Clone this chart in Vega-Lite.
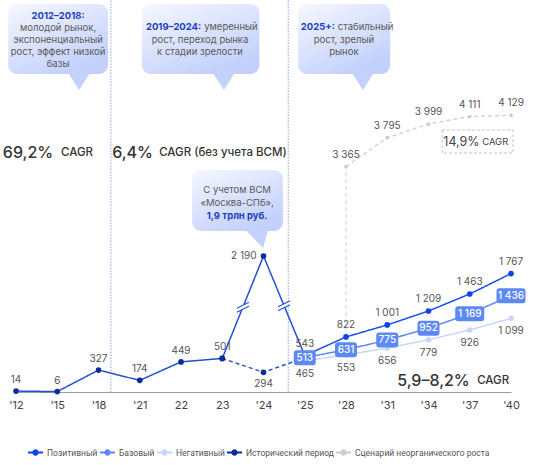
{
  "$schema": "https://vega.github.io/schema/vega-lite/v6.json",
  "width": 538,
  "height": 392,
  "autosize": {"type": "none"},
  "padding": {"left": 0, "top": 0, "right": 0, "bottom": 73},
  "background": "white",
  "config": {
    "view": {"stroke": null},
    "font": "Inter",
    "locale": {"number": {"decimal": ",", "thousands": "\u00a0", "grouping": [3], "currency": ["", "\u00a0₽"]}}
  },
  "datasets": {
    "series": [
      {"s": "Сценарий неорганического роста", "g": "inorg", "i": 8, "v": 3365},
      {"s": "Сценарий неорганического роста", "g": "inorg", "i": 9, "v": 3795},
      {"s": "Сценарий неорганического роста", "g": "inorg", "i": 10, "v": 3999},
      {"s": "Сценарий неорганического роста", "g": "inorg", "i": 11, "v": 4111},
      {"s": "Сценарий неорганического роста", "g": "inorg", "i": 12, "v": 4129},
      {"s": "Негативный", "g": "neg", "i": 7, "v": 465},
      {"s": "Негативный", "g": "neg", "i": 8, "v": 553},
      {"s": "Негативный", "g": "neg", "i": 9, "v": 656},
      {"s": "Негативный", "g": "neg", "i": 10, "v": 779},
      {"s": "Негативный", "g": "neg", "i": 11, "v": 926},
      {"s": "Негативный", "g": "neg", "i": 12, "v": 1099},
      {"s": "Базовый", "g": "base", "i": 7, "v": 513},
      {"s": "Базовый", "g": "base", "i": 8, "v": 631},
      {"s": "Базовый", "g": "base", "i": 9, "v": 775},
      {"s": "Базовый", "g": "base", "i": 10, "v": 952},
      {"s": "Базовый", "g": "base", "i": 11, "v": 1169},
      {"s": "Базовый", "g": "base", "i": 12, "v": 1436},
      {"s": "Позитивный", "g": "pos", "i": 7, "v": 543},
      {"s": "Позитивный", "g": "pos", "i": 8, "v": 822},
      {"s": "Позитивный", "g": "pos", "i": 9, "v": 1001},
      {"s": "Позитивный", "g": "pos", "i": 10, "v": 1209},
      {"s": "Позитивный", "g": "pos", "i": 11, "v": 1463},
      {"s": "Позитивный", "g": "pos", "i": 12, "v": 1767},
      {"s": "Исторический период", "g": "hist", "i": 0, "v": 14},
      {"s": "Исторический период", "g": "hist", "i": 1, "v": 6},
      {"s": "Исторический период", "g": "hist", "i": 2, "v": 327},
      {"s": "Исторический период", "g": "hist", "i": 3, "v": 174},
      {"s": "Исторический период", "g": "hist", "i": 4, "v": 449},
      {"s": "Исторический период", "g": "hist", "i": 5, "v": 501},
      {"s": "Исторический период", "g": "hist", "i": 6, "v": 2190},
      {"s": "Исторический период", "g": "hist", "i": 7, "v": 543},
      {"s": "Исторический период", "g": "alt", "i": 5, "v": 501},
      {"s": "Исторический период", "g": "alt", "i": 6, "v": 294},
      {"s": "Исторический период", "g": "alt", "i": 7, "v": 513}
    ],
    "eras": [
      {"i": 2.3, "v": 0, "v2": 5850},
      {"i": 6.6, "v": 0, "v2": 5850}
    ],
    "bubbles": [
      {"i": -0.19, "i2": 2.23, "v": 4746, "v2": 5791},
      {"i": 3.05, "i2": 5.9, "v": 4746, "v2": 5791},
      {"i": 6.84, "i2": 9.07, "v": 4746, "v2": 5791},
      {"i": 4.27, "i2": 6.47, "v": 2501, "v2": 3313}
    ],
    "pointers": [
      {"i": 1.53, "v": 4642},
      {"i": 5.04, "v": 4642},
      {"i": 8.41, "v": 4642}
    ],
    "callout": [{"i": 5.87, "v": 2389}],
    "cagrbox": [{"i": 10.33, "i2": 12.05, "v": 3567, "v2": 3910}],
    "link": [{"i": 8, "v": 822, "v2": 3365}],
    "breaks": [{"i": 5.5, "v": 1266}, {"i": 6.5, "v": 1287}],
    "notes": [
      {"t": "2012–2018:", "i": 1.02, "v": 5612, "role": "head"},
      {"t": "молодой рынок,", "i": 1.02, "v": 5433, "role": "body"},
      {"t": "экспоненциальный", "i": 1.02, "v": 5254, "role": "body"},
      {"t": "рост, эффект низкой", "i": 1.02, "v": 5075, "role": "body"},
      {"t": "базы", "i": 1.02, "v": 4896, "role": "body"},
      {"t": "2019–2024:", "i": 4.49, "v": 5448, "role": "head-r"},
      {"t": "умеренный", "i": 4.49, "v": 5448, "role": "body-l"},
      {"t": "рост, переход рынка", "i": 4.46, "v": 5254, "role": "body"},
      {"t": "к стадии зрелости", "i": 4.46, "v": 5075, "role": "body"},
      {"t": "2025+:", "i": 7.73, "v": 5448, "role": "head-r"},
      {"t": "стабильный", "i": 7.73, "v": 5448, "role": "body-l"},
      {"t": "рост, зрелый", "i": 7.95, "v": 5254, "role": "body"},
      {"t": "рынок", "i": 7.95, "v": 5075, "role": "body"},
      {"t": "С учетом ВСМ", "i": 5.36, "v": 3015, "role": "body"},
      {"t": "«Москва-СПб»,", "i": 5.36, "v": 2850, "role": "body"},
      {"t": "1,9 трлн руб.", "i": 5.36, "v": 2688, "role": "head"},
      {"t": "69,2%", "i": 0.9, "v": 3567, "role": "pct"},
      {"t": "CAGR", "i": 1.09, "v": 3567, "role": "unit"},
      {"t": "6,4%", "i": 3.32, "v": 3567, "role": "pct"},
      {"t": "CAGR (без учета ВСМ)", "i": 3.47, "v": 3567, "role": "unit"},
      {"t": "5,9–8,2%", "i": 11.0, "v": 164, "role": "pct"},
      {"t": "CAGR", "i": 11.18, "v": 164, "role": "unit"},
      {"t": "14,9%", "i": 11.24, "v": 3731, "role": "pct-s"},
      {"t": "CAGR", "i": 11.3, "v": 3731, "role": "unit-s"}
    ]
  },
  "encoding": {
    "x": {
      "field": "i",
      "type": "quantitative",
      "scale": {"domain": [0, 12], "range": [16, 511]},
      "axis": {
        "values": [0, 1, 2, 3, 4, 5, 6, 7, 8, 9, 10, 11, 12],
        "labelExpr": "[\"'12\", \"'15\", \"'18\", \"'21\", \"22\", \"23\", \"'24\", \"'25\", \"'28\", \"'31\", \"'34\", \"'37\", \"'40\"][datum.value]",
        "title": null,
        "ticks": false,
        "grid": false,
        "domainColor": "#9a9a9a",
        "labelFontSize": 11,
        "labelColor": "#444",
        "labelPadding": 7,
        "labelFlush": false,
        "labelOverlap": false
      }
    },
    "y": {
      "field": "v",
      "type": "quantitative",
      "scale": {"domain": [0, 1800, 2190, 3000, 5850], "range": [392, 271.4, 256, 191, 0]},
      "axis": null
    }
  },
  "layer": [
    {
      "data": {"name": "eras"},
      "mark": {"type": "rule", "color": "#8ea6e8", "strokeWidth": 1, "strokeDash": [1.5, 1.5]},
      "encoding": {"y2": {"field": "v2"}}
    },
    {
      "data": {"name": "bubbles"},
      "mark": {
        "type": "rect",
        "cornerRadius": 9,
        "color": {
          "gradient": "linear", "x1": 0, "y1": 0, "x2": 0.6, "y2": 1,
          "stops": [{"offset": 0, "color": "#f6f8ff"}, {"offset": 1, "color": "#c2d0fb"}]
        }
      },
      "encoding": {"x2": {"field": "i2"}, "y2": {"field": "v2"}}
    },
    {
      "data": {"name": "pointers"},
      "mark": {"type": "point", "filled": true, "opacity": 1, "color": "#c3d1fb", "size": 576, "shape": "M-1,-0.8L1,-0.8L0,0.75Z"}
    },
    {
      "data": {"name": "callout"},
      "mark": {"type": "point", "filled": true, "opacity": 1, "color": "#c3d1fb", "size": 400, "shape": "M-1.3,-1.05L1,-1.05L0.5,0.8Z"}
    },
    {
      "data": {"name": "cagrbox"},
      "mark": {"type": "rect", "fill": null, "fillOpacity": 0, "stroke": "#c4c4c4", "strokeWidth": 1, "strokeDash": [3, 2]},
      "encoding": {"x2": {"field": "i2"}, "y2": {"field": "v2"}}
    },
    {
      "data": {"name": "link"},
      "mark": {"type": "rule", "color": "#d4d4d4", "strokeWidth": 1.2, "strokeDash": [4, 3]},
      "encoding": {"y2": {"field": "v2"}}
    },
    {
      "data": {"name": "series"},
      "mark": {"type": "line", "strokeWidth": 1.5},
      "encoding": {
        "stroke": {
          "field": "g", "type": "nominal",
          "scale": {
            "domain": ["pos", "base", "neg", "hist", "alt", "inorg"],
            "range": ["#1a4ef0", "#5d89f6", "#c8d6fb", "#2450d6", "#2450d6", "#d4d4d4"]
          },
          "legend": null
        },
        "strokeDash": {
          "field": "g", "type": "nominal",
          "scale": {
            "domain": ["pos", "base", "neg", "hist", "alt", "inorg"],
            "range": [[1, 0], [1, 0], [1, 0], [1, 0], [4, 3], [4, 3]]
          },
          "legend": null
        }
      }
    },
    {
      "data": {"name": "breaks"},
      "mark": {"type": "point", "filled": true, "opacity": 1, "color": "white", "size": 100, "shape": "M-1.2,0.2L1.2,-1L1.2,-0.2L-1.2,1Z"}
    },
    {
      "data": {"name": "breaks"},
      "mark": {"type": "point", "filled": false, "opacity": 1, "color": "#2450d6", "strokeWidth": 1.1, "size": 100, "shape": "M-1.2,0.2L1.2,-1M-1.2,1L1.2,-0.2"}
    },
    {
      "data": {"name": "series"},
      "mark": {"type": "point", "filled": true, "opacity": 1},
      "encoding": {
        "color": {
          "field": "s", "type": "nominal",
          "scale": {
            "domain": ["Позитивный", "Базовый", "Негативный", "Исторический период", "Сценарий неорганического роста"],
            "range": ["#0d43ee", "#5d89f6", "#c8d6fb", "#0a2c9e", "#cccccc"]
          },
          "legend": {
            "orient": "none",
            "legendX": 27,
            "legendY": 444,
            "direction": "horizontal",
            "columns": 5,
            "title": null,
            "symbolType": "M-1,-0.12L1,-0.12L1,0.12L-1,0.12ZM-0.42,0A0.42,0.42,0,1,1,0.42,0A0.42,0.42,0,1,1,-0.42,0Z",
            "symbolSize": 225,
            "symbolOpacity": 1,
            "labelFont": "Roboto",
            "labelFontSize": 8.5,
            "labelColor": "#555",
            "labelOffset": 3,
            "columnPadding": 1
          }
        },
        "size": {"condition": {"test": "datum.g == 'inorg'", "value": 14}, "value": 32}
      }
    },
    {
      "data": {"name": "series"},
      "transform": [{"filter": "datum.g == 'base'"}],
      "mark": {"type": "point", "filled": true, "opacity": 1, "color": "#5d89f6", "size": 400},
      "encoding": {
        "shape": {
          "condition": {"test": "datum.v >= 1000", "value": "M-1.15,-0.75L1.15,-0.75Q1.45,-0.75,1.45,-0.45L1.45,0.45Q1.45,0.75,1.15,0.75L-1.15,0.75Q-1.45,0.75,-1.45,0.45L-1.45,-0.45Q-1.45,-0.75,-1.15,-0.75Z"},
          "value": "M-0.8,-0.75L0.8,-0.75Q1.1,-0.75,1.1,-0.45L1.1,0.45Q1.1,0.75,0.8,0.75L-0.8,0.75Q-1.1,0.75,-1.1,0.45L-1.1,-0.45Q-1.1,-0.75,-0.8,-0.75Z"
        }
      }
    },
    {
      "data": {"name": "series"},
      "transform": [{"filter": "datum.g == 'base'"}],
      "mark": {"type": "text", "color": "white", "fontSize": 10, "fontWeight": 500, "baseline": "middle"},
      "encoding": {"text": {"field": "v", "type": "quantitative", "format": ",d"}}
    },
    {
      "data": {"name": "series"},
      "transform": [{"filter": "datum.g == 'hist' && datum.i <= 5"}],
      "mark": {"type": "text", "color": "#555", "fontSize": 10, "baseline": "middle", "dy": -11},
      "encoding": {"text": {"field": "v", "type": "quantitative", "format": ",d"}}
    },
    {
      "data": {"name": "series"},
      "transform": [{"filter": "datum.g == 'hist' && datum.i == 6"}],
      "mark": {"type": "text", "color": "#555", "fontSize": 10, "baseline": "middle", "align": "right", "dx": -7},
      "encoding": {"text": {"field": "v", "type": "quantitative", "format": ",d"}}
    },
    {
      "data": {"name": "series"},
      "transform": [{"filter": "datum.g == 'alt' && datum.i == 6"}],
      "mark": {"type": "text", "color": "#555", "fontSize": 10, "baseline": "middle", "dy": 12},
      "encoding": {"text": {"field": "v", "type": "quantitative", "format": ",d"}}
    },
    {
      "data": {"name": "series"},
      "transform": [{"filter": "datum.g == 'pos' || datum.g == 'inorg'"}],
      "mark": {"type": "text", "color": "#555", "fontSize": 10, "baseline": "middle", "dy": -12},
      "encoding": {"text": {"field": "v", "type": "quantitative", "format": ",d"}}
    },
    {
      "data": {"name": "series"},
      "transform": [{"filter": "datum.g == 'neg'"}],
      "mark": {"type": "text", "color": "#555", "fontSize": 10, "baseline": "middle", "dy": 13},
      "encoding": {"text": {"field": "v", "type": "quantitative", "format": ",d"}}
    },
    {
      "data": {"name": "notes"},
      "transform": [{"filter": "datum.role == 'head'"}],
      "mark": {"type": "text", "color": "#1e3fc0", "fontSize": 9.5, "fontWeight": 700, "baseline": "middle"},
      "encoding": {"text": {"field": "t"}}
    },
    {
      "data": {"name": "notes"},
      "transform": [{"filter": "datum.role == 'head-r'"}],
      "mark": {"type": "text", "color": "#1e3fc0", "fontSize": 9.5, "fontWeight": 700, "baseline": "middle", "align": "right"},
      "encoding": {"text": {"field": "t"}}
    },
    {
      "data": {"name": "notes"},
      "transform": [{"filter": "datum.role == 'body'"}],
      "mark": {"type": "text", "color": "#5a5a5a", "fontSize": 9.5, "baseline": "middle"},
      "encoding": {"text": {"field": "t"}}
    },
    {
      "data": {"name": "notes"},
      "transform": [{"filter": "datum.role == 'body-l'"}],
      "mark": {"type": "text", "color": "#5a5a5a", "fontSize": 9.5, "baseline": "middle", "align": "left", "dx": 3},
      "encoding": {"text": {"field": "t"}}
    },
    {
      "data": {"name": "notes"},
      "transform": [{"filter": "datum.role == 'pct'"}],
      "mark": {"type": "text", "color": "#333", "fontSize": 16, "fontWeight": 500, "baseline": "middle", "align": "right"},
      "encoding": {"text": {"field": "t"}}
    },
    {
      "data": {"name": "notes"},
      "transform": [{"filter": "datum.role == 'unit'"}],
      "mark": {"type": "text", "color": "#333", "fontSize": 11.5, "fontWeight": 500, "baseline": "middle", "align": "left"},
      "encoding": {"text": {"field": "t"}}
    },
    {
      "data": {"name": "notes"},
      "transform": [{"filter": "datum.role == 'pct-s'"}],
      "mark": {"type": "text", "color": "#444", "fontSize": 12.5, "baseline": "middle", "align": "right"},
      "encoding": {"text": {"field": "t"}}
    },
    {
      "data": {"name": "notes"},
      "transform": [{"filter": "datum.role == 'unit-s'"}],
      "mark": {"type": "text", "color": "#444", "fontSize": 9.5, "baseline": "middle", "align": "left"},
      "encoding": {"text": {"field": "t"}}
    }
  ]
}
